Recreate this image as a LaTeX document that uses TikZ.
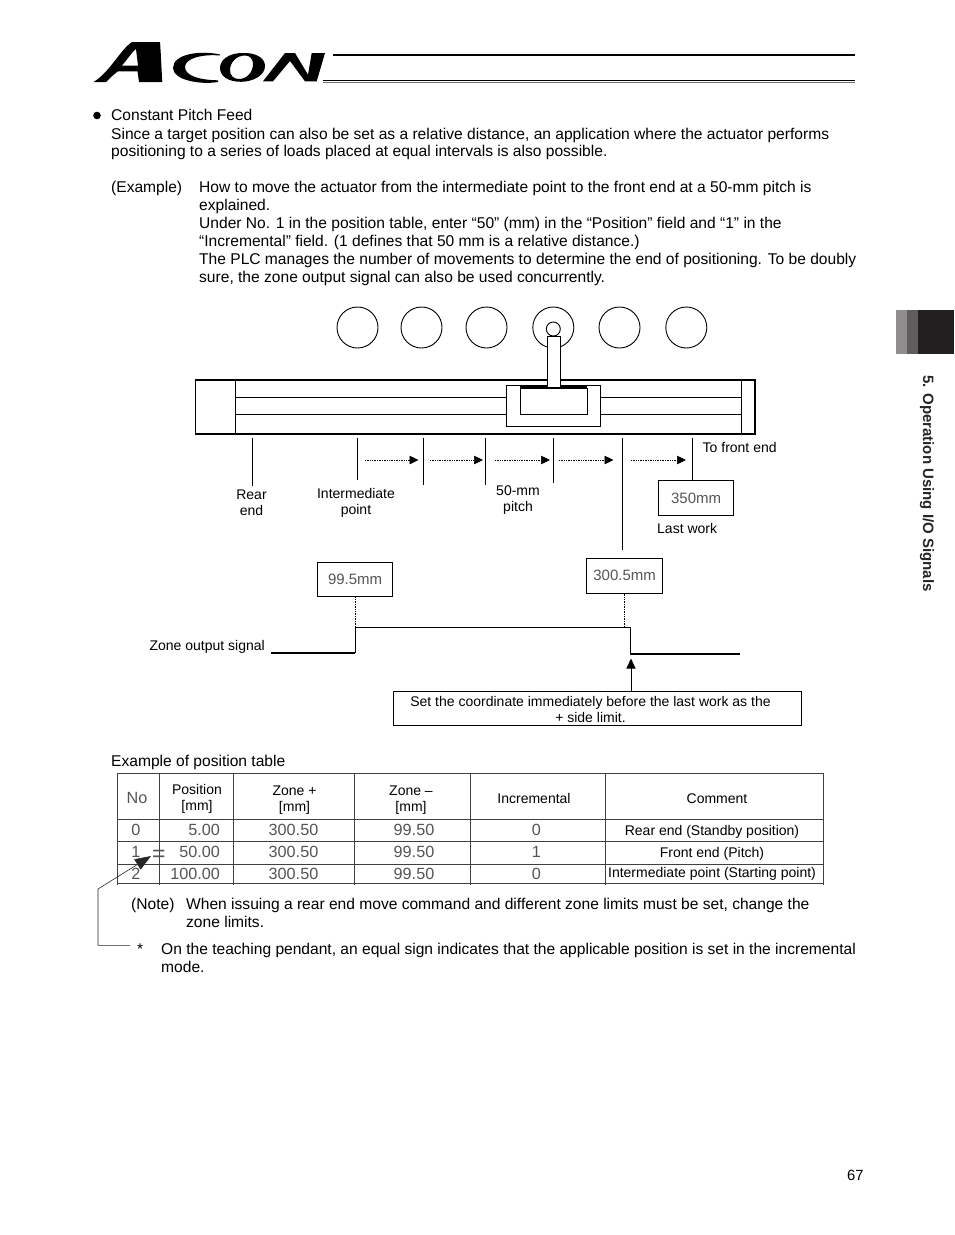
\documentclass[tikz,border=0pt]{standalone}
\usepackage{fontspec}
\setmainfont{Liberation Sans}
\usetikzlibrary{arrows.meta}
\definecolor{tabA}{HTML}{8F8D8E}
\definecolor{tabB}{HTML}{5F5D5E}
\definecolor{tabC}{HTML}{231F20}
\definecolor{lcd}{HTML}{555555}
\newcommand{\fsz}[1]{\fontsize{#1}{#1}\selectfont}
\tikzset{
  body/.style={anchor=base west,inner sep=0pt,font=\fsz{15.58}},
  lbl/.style={inner sep=0pt,align=center,font=\fsz{14}},
  lcdtext/.style={inner sep=0pt,text=lcd,font=\fsz{16.2}},
  ln/.style={draw=black,line width=1pt},
  boxx/.style={draw=black,line width=1.2pt,fill=white},
  tbl/.style={draw=black!75,line width=0.8pt},
  pitch/.style={draw=black,line width=0.7pt,densely dotted,-{Triangle[length=9pt,width=8.5pt]}},
  work/.style={draw=black,line width=0.9pt,fill=white},
  dots/.style={draw=black,line width=0.7pt,densely dotted},
  bigtip/.style={-{Triangle[length=16pt,width=12pt]}}
}
\begin{document}
\begin{tikzpicture}[x=1pt,y=-1pt]
\useasboundingbox (0,0) rectangle (954,1235);
\fill[white] (0,0) rectangle (954,1235);
% logo
\fill[black,even odd rule]
 (93.5,82) .. controls (110,72) and (120,50) .. (132,42) -- (160,42) .. controls (161,55) and (161.5,70) .. (162.3,82)
 -- (139,82) -- (137.5,71.3) -- (118,71.3) .. controls (113,75) and (109,79) .. (106,82) -- cycle
 (136,49) .. controls (131,53) and (127,60) .. (122,65.5) -- (138,65.5) -- cycle;
\fill[black]
 (220,54.5) .. controls (200,50) and (173,54) .. (173,68) .. controls (173,80) and (200,85) .. (218,82)
 -- (218,80.3) .. controls (200,80) and (185,76) .. (185,67) .. controls (185,58) and (203,54) .. (220,55.5) -- cycle;
\fill[black,even odd rule]
 (242.5,53) .. controls (256,52.5) and (265,58) .. (265,66) .. controls (265,76) and (252,81.8) .. (241,81.8)
 .. controls (228,81.8) and (220,76) .. (220,68) .. controls (220,59) and (230,53) .. (242.5,53) -- cycle
 (245,55.5) .. controls (236,55.5) and (230,63) .. (230,70) .. controls (230,76) and (234,79) .. (239,79)
 .. controls (247,79) and (253,72) .. (253,64) .. controls (253,59) and (250,55.5) .. (245,55.5) -- cycle;
\fill[black]
 (263,81.3) -- (285,53) -- (295,53) -- (308,74.7) -- (311.7,53) -- (325,53) -- (316.7,81.3) -- (305,81.3) -- (290,61) -- (273,81.3) -- cycle;
\coordinate (ruleA) at (333,55.2); \coordinate (ruleAe) at (855,55.2);
\coordinate (ruleB) at (323,80.5); \coordinate (ruleBe) at (855,80.5);
\coordinate (ruleC) at (323,82.8); \coordinate (ruleCe) at (855,82.8);
\draw[line width=2.4pt] (ruleA) -- (ruleAe);
\draw[line width=1.1pt] (ruleB) -- (ruleBe);
\draw[line width=1pt,black!55] (ruleC) -- (ruleCe);
% side tab
\fill[tabA] (896,310) rectangle (907,354);
\fill[tabB] (907,310) rectangle (918,354);
\fill[tabC] (918,310) rectangle (954,354);
\node[rotate=-90,inner sep=0pt,font=\fsz{15}\bfseries,text=black!85] (side) at (927,483.5) {5. Operation Using I/O Signals};
% body text
\fill (97,115.5) circle (3.8);
\node[body] (t1) at (111,120) {Constant Pitch Feed};
\node[body] (t2) at (111,139) {Since a target position can also be set as a relative distance, an application where the actuator performs};
\node[body] (t3) at (111,156) {positioning to a series of loads placed at equal intervals is also possible.};
\node[body] (t4) at (111,192) {(Example)};
\node[body] (t5) at (199,192) {How to move the actuator from the intermediate point to the front end at a 50-mm pitch is};
\node[body] (t6) at (199,210) {explained.};
\node[body] (t7) at (199,228) {Under No. 1 in the position table, enter “50” (mm) in the “Position” field and “1” in the};
\node[body] (t8) at (199,246) {“Incremental” field. (1 defines that 50 mm is a relative distance.)};
\node[body] (t9) at (199,264) {The PLC manages the number of movements to determine the end of positioning. To be doubly};
\node[body] (t10) at (199,282) {sure, the zone output signal can also be used concurrently.};
% works
\foreach \n/\x in {a/357.5,b/421.5,c/486.5,d/553.3,e/619.5,f/686.3}
  \draw[work] (\x,327.5) circle (20.5);
% actuator
\draw[line width=1.5pt] (195.5,380) rectangle (755,434);
\draw[line width=1pt] (235,380) -- (235,434);
\draw[line width=1.2pt] (741.8,380) -- (741.8,434);
\draw[line width=1pt] (235,397) -- (742,397);
\draw[line width=1pt] (235,414) -- (742,414);
\draw[draw=black,line width=1pt,fill=white] (506.5,385) rectangle (600.5,426);
\draw[draw=black,line width=1pt,fill=white] (520,388) rectangle (587,414);
\draw[line width=2pt] (520,387) -- (587,387);
\draw[work] (553.3,329) circle (7);
\draw[draw=black,line width=1pt,fill=white] (547,336) rectangle (560,387);
% ticks
\coordinate (r1) at (252,438); \coordinate (r2) at (252,486);
\coordinate (i1) at (357,438); \coordinate (i2) at (357,480);
\coordinate (p1) at (423,438); \coordinate (p2) at (423,484.5);
\coordinate (q1) at (485.5,438); \coordinate (q2) at (485.5,484.5);
\coordinate (u1) at (553.5,438); \coordinate (u2) at (553.5,483);
\coordinate (v1) at (622,438); \coordinate (v2) at (622,550);
\coordinate (w1) at (692,438);
\foreach \s/\e in {r1/r2,i1/i2,p1/p2,q1/q2,u1/u2,v1/v2}
  \draw[ln] (\s) -- (\e);
\node[boxx,minimum width=75pt,minimum height=35pt,inner sep=0pt,anchor=north west,text=lcd,font=\fsz{15}] (b350) at (658,480) {350mm};
\draw[ln] (w1) -- (b350.north -| w1);
\foreach \i/\a/\b in {1/365/418.5,2/430/483,3/495/550,4/559/613.5,5/631/686}{
  \coordinate (da\i) at (\a,460); \coordinate (db\i) at (\b,460);
  \draw[pitch] (da\i) -- (db\i);
}
\node[lbl] (lrear) at (251.5,503) {Rear\\[2pt]end};
\node[lbl] (lint) at (356,503) {Intermediate\\[2pt]point};
\node[lbl] (lpitch) at (518,500.5) {50-mm\\[2pt]pitch};
\node[lbl,anchor=west] (lfront) at (702.5,447.5) {To front end};
\node[lbl,anchor=west] (llast) at (657,528.5) {Last work};
% signal
\node[boxx,minimum width=75pt,minimum height=34pt,inner sep=0pt,anchor=north west,text=lcd,font=\fsz{15}] (b995) at (317,562) {99.5mm};
\node[boxx,minimum width=76pt,minimum height=35pt,inner sep=0pt,anchor=north west,text=lcd,font=\fsz{15}] (b3005) at (586,557.5) {300.5mm};
\coordinate (s0) at (271,652.8); \coordinate (s1) at (355,652.8); \coordinate (s2) at (355,627);
\coordinate (s3) at (630,627); \coordinate (s4) at (630,653.8); \coordinate (s5) at (740,653.8);
\draw[dots] (b995.south -| s1) -- (s2);
\coordinate (s6) at (624.5,627);
\draw[dots] (b3005.south -| s6) -- (s6);
\draw[line width=1.6pt] (s0) -- (s1);
\draw[line width=1pt] (s1) -- (s2) -- (s3) -- (s4);
\draw[line width=1.6pt] (s4) -- (s5);
\node[lbl,anchor=east] (lzone) at (265,647) {Zone output signal};
\node[boxx,minimum width=408pt,minimum height=34pt,inner sep=0pt,anchor=north west] (note) at (392.5,691) {};
\node[lbl] (notet) at (590.5,709) {Set the coordinate immediately before the last work as the\\[2pt]+ side limit.};
\coordinate (ntip) at (631,658.5); \coordinate (nbase) at (631,691);
\draw[line width=1pt,-{Triangle[length=10pt,width=9pt]}] (nbase) -- (ntip);
% table
\node[body] (extitle) at (111,766) {Example of position table};
\draw[tbl] (117,773.2) -- (823.5,773.2);
\foreach \y in {819.3,841.3,864.3,883.5} \draw[tbl] (117,\y) -- (823.5,\y);
\foreach \x in {117.3,159.3,233.3,354.3,470.7,605.7,823.3} \draw[tbl] (\x,773) -- (\x,885);
\node[lcdtext] (hno) at (137,798) {No};
\node[lbl] (hpos) at (197,799) {Position\\[2pt][mm]};
\node[lbl] (hzp) at (294.5,800) {Zone +\\[2pt][mm]};
\node[lbl] (hzm) at (411,800) {Zone –\\[2pt][mm]};
\node[lbl] (hinc) at (534,798.5) {Incremental};
\node[lbl] (hcom) at (717,798.5) {Comment};
\node[lcdtext] (n0) at (136,830) {0};
\node[lcdtext] (n1) at (136,852) {1};
\node[lcdtext] (n2) at (136,873.5) {2};
\node[lcdtext,anchor=east] (p0) at (220,830) {5.00};
\node[lcdtext,anchor=east] (p1t) at (220,852) {50.00};
\node[lcdtext,anchor=east] (p2t) at (220,874) {100.00};
\foreach \i/\y in {0/830,1/852,2/874}{
  \node[lcdtext] (zp\i) at (293.5,\y) {300.50};
  \node[lcdtext] (zm\i) at (414,\y) {99.50};
}
\node[lcdtext] (i0) at (536.5,830) {0};
\node[lcdtext] (i1t) at (536.5,852) {1};
\node[lcdtext] (i2t) at (536.5,874) {0};
\node[lbl] (c0) at (712,832) {Rear end (Standby position)};
\node[lbl] (c1) at (712,853.5) {Front end (Pitch)};
\node[lbl] (c2) at (712,874) {Intermediate point (Starting point)};
\node[inner sep=0pt,text=lcd,font=\fsz{23}] (eq) at (158.8,855.5) {=};
% pointer
\coordinate (pa) at (130,945.3); \coordinate (pb) at (98,945.3); \coordinate (pc) at (98,889); \coordinate (pd) at (151,856);
\draw[line width=0.6pt,black!85,bigtip] (pa) -- (pb) -- (pc) -- (pd);
% notes
\node[body] (n1a) at (131,909) {(Note)};
\node[body] (n1b) at (186,909) {When issuing a rear end move command and different zone limits must be set, change the};
\node[body] (n1c) at (186,927) {zone limits.};
\node[body] (n2a) at (137,954) {*};
\node[body] (n2b) at (161,954) {On the teaching pendant, an equal sign indicates that the applicable position is set in the incremental};
\node[body] (n2c) at (161,972) {mode.};
\node[anchor=base west,inner sep=0pt,font=\fsz{14.8}] (pg) at (847,1180) {67};
\end{tikzpicture}
\end{document}
